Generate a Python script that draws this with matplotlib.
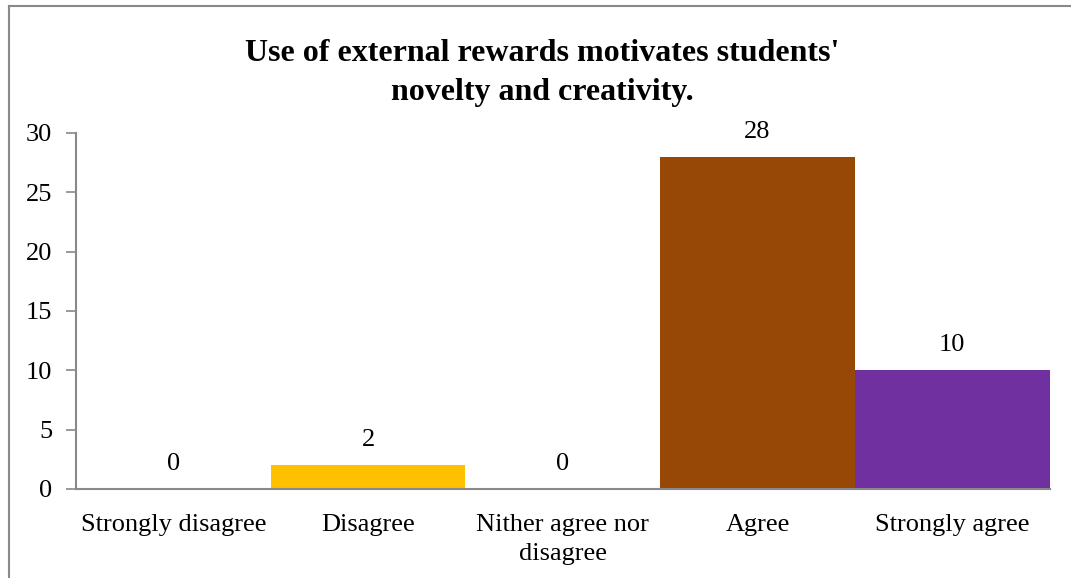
import matplotlib.pyplot as plt
from matplotlib.lines import Line2D

categories = ['Strongly disagree', 'Disagree', 'Nither agree nor\ndisagree', 'Agree', 'Strongly agree']
counts = [0, 2, 0, 28, 10]
colors = ['#4F81BD', '#FFC000', '#9BBB59', '#974706', '#7030A0']
title = "Use of external rewards motivates students'\nnovelty and creativity."

plt.rcParams['font.family'] = ['Liberation Serif', 'DejaVu Serif']

fig = plt.figure(figsize=(10.71, 5.78), dpi=100)
ax = fig.add_axes([0.071, 0.154, 0.909, 0.616])

x = list(range(len(categories)))
ax.bar(x, counts, width=1.0, color=colors)

# value labels above bars
for xi, v in zip(x, counts):
    ax.annotate(str(v), (xi, v), xytext=(0, 18), textcoords='offset points',
                ha='center', va='center', fontsize=19)

ax.set_xlim(-0.5, 4.5)
ax.set_ylim(0, 30)
ax.set_yticks(range(0, 31, 5))
ax.set_xticks(x)
ax.set_xticklabels(categories, fontsize=19, linespacing=1.4)
ax.tick_params(axis='y', labelsize=19, length=7, width=1.2, color='#898989', pad=10)
ax.tick_params(axis='x', length=0, pad=18)

for side in ['top', 'right']:
    ax.spines[side].set_visible(False)
for side in ['left', 'bottom']:
    ax.spines[side].set_color('#898989')
    ax.spines[side].set_linewidth(1.5)

fig.suptitle(title, x=0.506, y=0.933, fontsize=23, fontweight='bold', linespacing=1.45)

# outer chart frame (only top and left visible)
fig.add_artist(Line2D([0.0084, 1.0], [0.9896, 0.9896], transform=fig.transFigure, color='#898989', lw=1.5))
fig.add_artist(Line2D([0.0084, 0.0084], [0.0, 0.9896], transform=fig.transFigure, color='#898989', lw=1.5))

plt.savefig('out.png', dpi=100)
plt.close()
